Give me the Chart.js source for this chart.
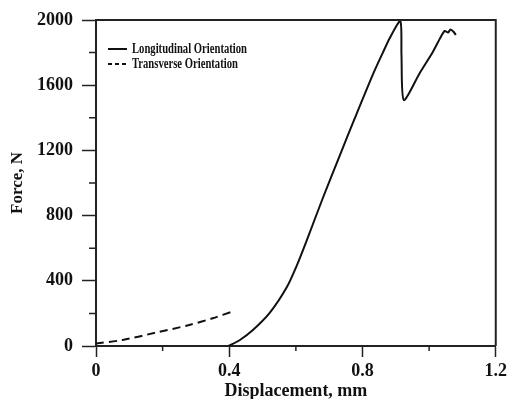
<!DOCTYPE html>
<html>
<head>
<meta charset="utf-8">
<script src="https://cdn.jsdelivr.net/npm/chart.js@4/dist/chart.umd.min.js"></script>
<style>
  html, body { margin: 0; padding: 0; background: #fff; }
  #wrap { width: 511px; height: 399px; position: relative; }
</style>
</head>
<body>
<div id="wrap"><canvas id="c" width="511" height="399"></canvas></div>
<script>
// ---- data ----
const longDisp  = [0.3975, 0.432, 0.471, 0.522, 0.573, 0.603, 0.633, 0.681, 0.732, 0.777, 0.831, 0.860, 0.882, 0.9135, 0.917, 0.924, 0.972, 1.011, 1.035, 1.047, 1.057, 1.064, 1.074, 1.080];
const longForce = [0,      37,    98,    205,   362,   495,   650,   908,   1170,  1398,  1665,  1795,  1890,  1994,   1785,  1509,  1675,  1804,  1896,  1933,  1923,  1942,  1926,  1908];
const transDisp  = [0.0, 0.08, 0.18, 0.28, 0.35, 0.415];
const transForce = [15,  37,   82,   129,  170,  215];
const seriesNames = ['Longitudinal Orientation', 'Transverse Orientation'];
const xTickValues = [0, 0.4, 0.8, 1.2];
const xTickLabels = ['0', '0.4', '0.8', '1.2'];
const yTickValues = [0, 400, 800, 1200, 1600, 2000];
const yTickLabels = ['0', '400', '800', '1200', '1600', '2000'];
const xMinorTicks = [0.2, 0.6, 1.0];
const yMinorTicks = [200, 600, 1000, 1400, 1800];
const xTitle = 'Displacement, mm';
const yTitle = 'Force, N';

const FONT = "'Liberation Serif', 'Times New Roman', serif";
const INK = '#111';

function toPoints(xs, ys) { return xs.map((x, i) => ({ x: x, y: ys[i] })); }

const framePlugin = {
  id: 'frame',
  afterDraw(chart) {
    const ctx = chart.ctx;
    const a = chart.chartArea;
    const xs = chart.scales.x, ys = chart.scales.y;
    ctx.save();
    ctx.strokeStyle = '#222';
    ctx.lineWidth = 2;
    ctx.beginPath();
    ctx.moveTo(a.left, a.top);
    ctx.lineTo(a.right, a.top);
    ctx.lineTo(a.right, a.bottom);
    ctx.stroke();
    ctx.lineWidth = 1.5;
    ctx.beginPath();
    yMinorTicks.forEach(v => {
      const py = ys.getPixelForValue(v);
      ctx.moveTo(a.left - 7, py);
      ctx.lineTo(a.left, py);
    });
    xMinorTicks.forEach(v => {
      const px = xs.getPixelForValue(v);
      ctx.moveTo(px, a.bottom);
      ctx.lineTo(px, a.bottom + 5);
    });
    ctx.stroke();
    ctx.restore();
  }
};

const legendPlugin = {
  id: 'innerLegend',
  afterDraw(chart) {
    const ctx = chart.ctx;
    const a = chart.chartArea;
    const x0 = a.left + 12;
    const rowY = [a.top + 29, a.top + 44];
    ctx.save();
    ctx.font = 'bold 14px ' + FONT;
    const sx = 115 / ctx.measureText(chart.data.datasets[0].label).width;
    chart.data.datasets.forEach((ds, i) => {
      const y = rowY[i];
      ctx.strokeStyle = ds.borderColor;
      ctx.lineWidth = 2;
      ctx.setLineDash(i === 0 ? [] : [4, 3]);
      ctx.beginPath();
      ctx.moveTo(x0, y);
      ctx.lineTo(x0 + 19, y);
      ctx.stroke();
      ctx.setLineDash([]);
      ctx.fillStyle = INK;
      ctx.textBaseline = 'middle';
      ctx.textAlign = 'left';
      ctx.save();
      ctx.translate(x0 + 24, y + 0.5);
      ctx.scale(sx, 1);
      ctx.fillText(ds.label, 0, 0);
      ctx.restore();
    });
    ctx.restore();
  }
};

new Chart(document.getElementById('c'), {
  type: 'scatter',
  data: {
    datasets: [
      {
        label: seriesNames[0],
        data: toPoints(longDisp, longForce),
        showLine: true,
        borderColor: INK,
        borderWidth: 2,
        pointRadius: 0,
        tension: 0.25,
        fill: false
      },
      {
        label: seriesNames[1],
        data: toPoints(transDisp, transForce),
        showLine: true,
        borderColor: INK,
        borderWidth: 2,
        borderDash: [8, 5],
        pointRadius: 0,
        tension: 0.3,
        fill: false
      }
    ]
  },
  options: {
    responsive: false,
    animation: false,
    devicePixelRatio: 1,
    layout: { padding: { top: 20, right: 15, left: 0, bottom: 0 } },
    plugins: {
      legend: { display: false },
      tooltip: { enabled: false }
    },
    scales: {
      x: {
        type: 'linear',
        min: 0, max: 1.2,
        afterFit(s) { s.height = 53; },
        afterBuildTicks(s) { s.ticks = xTickValues.map(v => ({ value: v })); },
        ticks: {
          padding: 4,
          color: INK,
          font: { family: FONT, size: 18, weight: 'bold' },
          callback: (v) => { const i = xTickValues.findIndex(t => Math.abs(t - v) < 1e-9); return i >= 0 ? xTickLabels[i] : ''; }
        },
        grid: { drawOnChartArea: false, drawTicks: true, tickLength: 11, tickWidth: 1.5, tickColor: '#222' },
        border: { display: true, color: '#222', width: 2 },
        title: {
          display: true, text: xTitle, color: INK,
          font: { family: FONT, size: 18, weight: 'bold', lineHeight: 0.8 },
          padding: 0
        }
      },
      y: {
        type: 'linear',
        min: 0, max: 2000,
        afterFit(s) { s.width = 96; },
        afterBuildTicks(s) { s.ticks = yTickValues.map(v => ({ value: v })); },
        ticks: {
          padding: 9,
          color: INK,
          font: { family: FONT, size: 18, weight: 'bold' },
          callback: (v) => { const i = yTickValues.indexOf(v); return i >= 0 ? yTickLabels[i] : ''; }
        },
        grid: { drawOnChartArea: false, drawTicks: true, tickLength: 14, tickWidth: 1.5, tickColor: '#222' },
        border: { display: true, color: '#222', width: 2 },
        title: {
          display: true, text: yTitle, color: INK,
          font: { family: FONT, size: 17, weight: 'bold' },
          padding: { top: 7, bottom: 0 }
        }
      }
    }
  },
  plugins: [framePlugin, legendPlugin]
});
</script>
</body>
</html>
